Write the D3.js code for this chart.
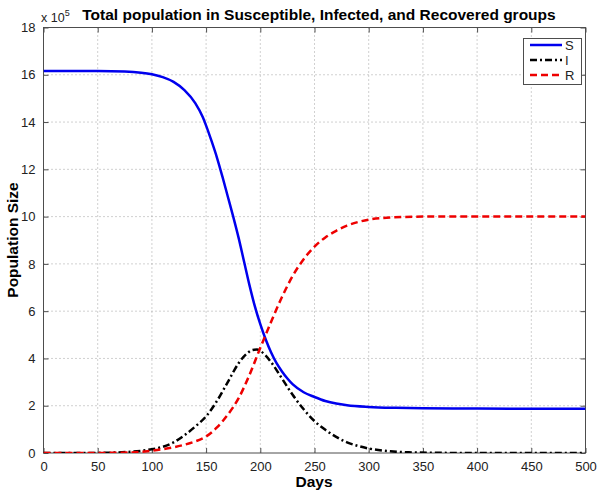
<!DOCTYPE html>
<html><head><meta charset="utf-8">
<script src="https://cdn.jsdelivr.net/npm/d3@7"></script>
<style>
html,body{margin:0;padding:0;background:#fff;}
svg{display:block;font-family:"Liberation Sans",Arial,Helvetica,sans-serif;}
</style></head>
<body><svg id="c" width="601" height="493"></svg>
<script>
// Values in units of 10^5
const sDays = [0,50,75,90,100,110,120,130,140,147,150,155,160,165,170,175,180,185,190,195,200,205,210,215,220,225,230,240,250,260,270,280,300,325,350,400,500];
const sVals = [16.16,16.16,16.14,16.09,16.02,15.9,15.7,15.35,14.8,14.2,13.85,13.2,12.5,11.7,10.85,10.0,9.1,8.1,7.1,6.2,5.45,4.8,4.25,3.8,3.45,3.15,2.9,2.57,2.37,2.2,2.09,2.02,1.95,1.91,1.89,1.88,1.87];
const iDays = [0,50,80,100,110,120,130,140,150,160,170,180,187,193,197,200,205,210,220,230,240,250,260,270,280,290,300,320,340,360,400,500];
const iVals = [0,0.005,0.05,0.16,0.26,0.45,0.75,1.12,1.55,2.2,3.0,3.8,4.18,4.36,4.38,4.32,4.12,3.84,3.15,2.45,1.85,1.35,0.98,0.68,0.45,0.3,0.19,0.07,0.025,0.01,0,0];
const rDays = [0,50,80,100,110,120,130,140,150,160,170,180,190,200,210,220,230,240,250,260,270,280,290,300,320,350,400,500];
const rVals = [0,0.003,0.02,0.1,0.16,0.24,0.35,0.49,0.7,1.08,1.62,2.32,3.3,4.45,5.55,6.6,7.5,8.2,8.73,9.12,9.4,9.62,9.77,9.87,9.96,10.0,10.0,10.0];
const xTicks = [0,50,100,150,200,250,300,350,400,450,500];
const yTicks = [0,2,4,6,8,10,12,14,16,18];
const seriesNames = ["S","I","R"];
const titleText = "Total population in Susceptible, Infected, and Recovered groups";

const svg = d3.select("#c");
const L = 43.5, R = 585.5, T = 27.5, B = 453;
const x = d3.scaleLinear().domain([0,500]).range([L,R]);
const y = d3.scaleLinear().domain([0,18]).range([B,T]);

// grid
const g = svg.append("g");
g.selectAll(".vg").data(xTicks.slice(1,-1)).enter().append("line")
  .attr("x1",d=>x(d)).attr("x2",d=>x(d)).attr("y1",T).attr("y2",B)
  .attr("stroke","#8a8a8a").attr("stroke-width",0.8).attr("stroke-dasharray","1,3");
g.selectAll(".hg").data(yTicks.slice(1,-1)).enter().append("line")
  .attr("y1",d=>y(d)).attr("y2",d=>y(d)).attr("x1",L).attr("x2",R)
  .attr("stroke","#8a8a8a").attr("stroke-width",0.8).attr("stroke-dasharray","1,3");

// axes
const axB = d3.axisBottom(x).tickValues(xTicks).tickSize(-5).tickPadding(9).tickFormat(d3.format("d"));
const axL = d3.axisLeft(y).tickValues(yTicks).tickSize(-5).tickPadding(8).tickFormat(d3.format("d"));
const axT = d3.axisTop(x).tickValues(xTicks).tickSize(-5).tickFormat("");
const axR = d3.axisRight(y).tickValues(yTicks).tickSize(-5).tickFormat("");
function style(sel){
  sel.selectAll("path").attr("stroke","#4d4d4d");
  sel.selectAll("line").attr("stroke","#4d4d4d");
  sel.selectAll("text").attr("fill","#222").style("font-size","13px").style("font-family","'Liberation Sans',Arial,sans-serif");
}
svg.append("g").attr("transform",`translate(0,${B})`).call(axB).call(style).call(s=>s.select(".domain").remove());
svg.append("g").attr("transform",`translate(${L},0)`).call(axL).call(style).call(s=>s.select(".domain").remove());
svg.append("g").attr("transform",`translate(0,${T})`).call(axT).call(style).call(s=>s.select(".domain").remove());
svg.append("g").attr("transform",`translate(${R},0)`).call(axR).call(style).call(s=>s.select(".domain").remove());
svg.append("rect").attr("x",L).attr("y",T).attr("width",R-L).attr("height",B-T)
  .attr("fill","none").attr("stroke","#4d4d4d").attr("stroke-width",1);

// lines
const line = d3.line().x(d=>x(d[0])).y(d=>y(d[1])).curve(d3.curveMonotoneX);
const styles = [
  {c:"#0000ee", dash:null, w:2.5},
  {c:"#000000", dash:"7,3,2,3", w:2.5},
  {c:"#ee0000", dash:"7,4", w:2.5}
];
const data = [d3.zip(sDays,sVals), d3.zip(iDays,iVals), d3.zip(rDays,rVals)];
svg.append("clipPath").attr("id","cp").append("rect").attr("x",L).attr("y",T).attr("width",R-L).attr("height",B-T);
const lg = svg.append("g").attr("clip-path","url(#cp)");
data.forEach((d,i)=>{
  lg.append("path").datum(d).attr("d",line).attr("fill","none")
    .attr("stroke",styles[i].c).attr("stroke-width",styles[i].w)
    .attr("stroke-dasharray",styles[i].dash);
});

// legend
const leg = svg.append("g");
leg.append("rect").attr("x",523.5).attr("y",38.5).attr("width",58).attr("height",46)
  .attr("fill","#fff").attr("stroke","#4d4d4d").attr("stroke-width",1);
seriesNames.forEach((n,i)=>{
  const yy = 45 + i*15;
  leg.append("line").attr("x1",530).attr("x2",562).attr("y1",yy).attr("y2",yy)
    .attr("stroke",styles[i].c).attr("stroke-width",styles[i].w).attr("stroke-dasharray",styles[i].dash);
  leg.append("text").attr("x",565).attr("y",yy+4.5).text(n)
    .style("font-size","13px").attr("fill","#222");
});

// title & labels
svg.append("text").attr("x",319).attr("y",20).attr("text-anchor","middle")
  .style("font-size","15.5px").style("font-weight","bold").text(titleText);
const ex = svg.append("text").attr("x",41).attr("y",22).style("font-size","12.5px").attr("fill","#222");
ex.append("tspan").text("x 10");
ex.append("tspan").attr("dy",-6).style("font-size","9px").text("5");
svg.append("text").attr("x",314).attr("y",487).attr("text-anchor","middle")
  .style("font-size","15.5px").style("font-weight","bold").text("Days");
svg.append("text").attr("transform","translate(18,240) rotate(-90)").attr("text-anchor","middle")
  .style("font-size","15.5px").style("font-weight","bold").text("Population Size");
</script></body></html>
